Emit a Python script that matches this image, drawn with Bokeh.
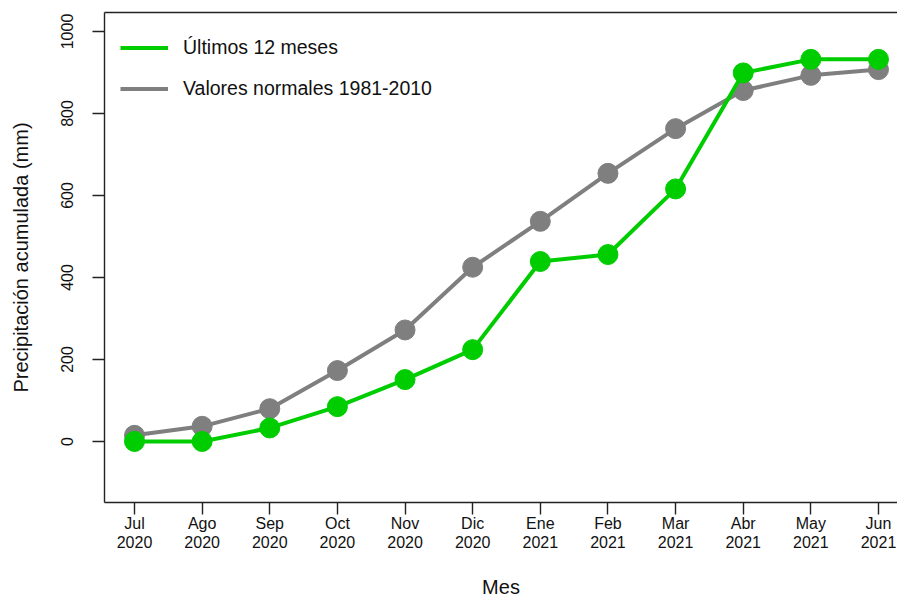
from bokeh.plotting import figure
from bokeh.models import FixedTicker, LinearAxis, Legend, LegendItem, ColumnDataSource
from bokeh.embed import file_html
from bokeh.resources import INLINE

# Data
months = ["Jul", "Ago", "Sep", "Oct", "Nov", "Dic", "Ene", "Feb", "Mar", "Abr", "May", "Jun"]
years = ["2020"] * 6 + ["2021"] * 6
month_index = list(range(1, 13))
ultimos = [0, 0, 33, 85, 151, 224, 439, 456, 616, 899, 932, 932]
normales = [15, 37, 80, 173, 272, 425, 537, 654, 763, 856, 893, 907]
y_ticks = [0, 200, 400, 600, 800, 1000]

GREEN = "#00CD00"
GRAY = "#7F7F7F"
FONT = "Liberation Sans"
TXT = "#111111"

p = figure(width=897, height=601, output_backend="svg", toolbar_location=None,
           x_range=(0.5565, 12.281), y_range=(-148.8, 1046.3),
           min_border_left=104, min_border_top=12, min_border_right=0, min_border_bottom=99)
p.outline_line_color = None
p.xgrid.visible = False
p.ygrid.visible = False
p.background_fill_color = "white"
p.border_fill_color = "white"

src = ColumnDataSource(dict(x=month_index, u=ultimos, n=normales))

r_n_line = p.line("x", "n", source=src, color=GRAY, line_width=4)
p.scatter("x", "n", source=src, size=20, color=GRAY)
r_u_line = p.line("x", "u", source=src, color=GREEN, line_width=4)
p.scatter("x", "u", source=src, size=20, color=GREEN)

# axes
xa = p.xaxis[0]
xa.ticker = FixedTicker(ticks=month_index)
xa.major_label_overrides = {i: f"{m}\n{y}" for i, m, y in zip(month_index, months, years)}
xa.axis_label = "Mes"

ya = p.yaxis[0]
ya.ticker = FixedTicker(ticks=y_ticks)
ya.major_label_orientation = "vertical"
ya.axis_label = "Precipitación acumulada (mm)"

for ax in (xa, ya):
    ax.minor_tick_line_color = None
    ax.major_tick_in = 0
    ax.major_tick_out = 12
    ax.axis_line_color = "#222222"
    ax.axis_line_width = 1.4
    ax.major_tick_line_color = "#222222"
    ax.major_tick_line_width = 1.4
    ax.major_label_text_font = FONT
    ax.major_label_text_font_size = "16px"
    ax.major_label_text_color = TXT
    ax.axis_label_text_font = FONT
    ax.axis_label_text_font_size = "20px"
    ax.axis_label_text_font_style = "normal"
    ax.axis_label_text_color = TXT

xa.major_label_standoff = 0
xa.major_label_text_line_height = 1.15
xa.axis_label_standoff = 22
ya.major_label_standoff = 19
ya.axis_label_standoff = 27

top = LinearAxis(ticker=FixedTicker(ticks=[]), major_label_text_font_size="0px",
                 axis_line_color="#222222", axis_line_width=1.4,
                 major_tick_line_color=None, minor_tick_line_color=None)
p.add_layout(top, "above")

legend = Legend(items=[LegendItem(label="Últimos 12 meses", renderers=[r_u_line]),
                       LegendItem(label="Valores normales 1981-2010", renderers=[r_n_line])],
                location="top_left")
legend.margin = 16
legend.padding = 0
legend.spacing = 2
legend.glyph_width = 48
legend.glyph_height = 39
legend.label_standoff = 15
legend.label_text_font = FONT
legend.label_text_font_size = "19.5px"
legend.label_text_color = TXT
legend.border_line_color = None
legend.background_fill_alpha = 0
p.add_layout(legend)

open("out.html", "w").write(file_html(p, INLINE))
